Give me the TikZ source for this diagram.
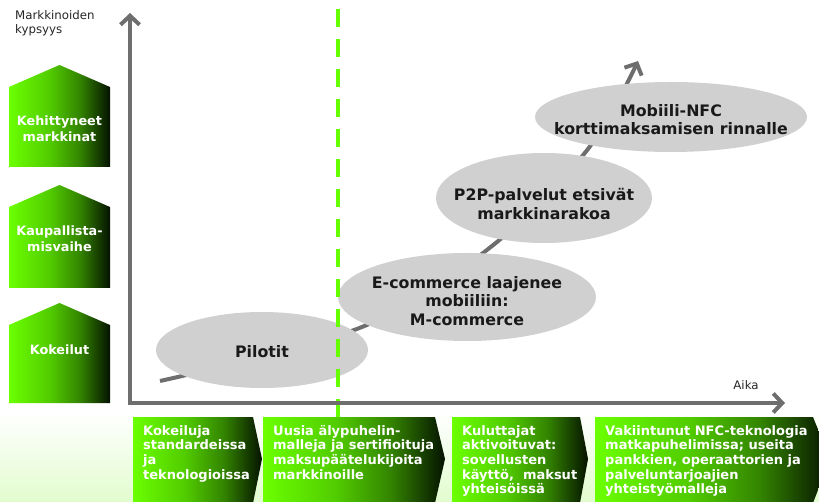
\documentclass[tikz,border=0pt]{standalone}
\usepackage{fontspec}
\setmainfont{DejaVu Sans}
\usetikzlibrary{arrows.meta,shapes.geometric}
\pgfdeclarehorizontalshading{gshade}{100bp}{rgb(0bp)=(0.42,1,0); rgb(25bp)=(0.42,1,0); rgb(45bp)=(0.32,0.8,0); rgb(60bp)=(0.2,0.52,0); rgb(75bp)=(0.02,0.07,0); rgb(100bp)=(0.02,0.07,0)}
\definecolor{axisgrey}{RGB}{110,110,110}
\definecolor{ellgrey}{RGB}{208,208,208}
\definecolor{limeg}{RGB}{102,255,0}
\definecolor{paleg}{RGB}{226,252,206}
\begin{document}
\begin{tikzpicture}[x=1pt,y=-1pt,
  house/.style={shading=gshade},
  chev/.style={shading=gshade},
  housetext/.style={text=white, font=\fontsize{12.8}{16}\selectfont\bfseries, align=center, inner sep=0pt},
  boxtext/.style={text=white, font=\fontsize{13}{14.7}\selectfont\bfseries, align=left, anchor=north west, inner sep=0pt},
  ell/.style={ellipse, fill=ellgrey, inner sep=0pt},
  elltext/.style={font=\fontsize{15.8}{18.5}\selectfont\bfseries, align=center, text=black!90, inner sep=0pt},
  axisline/.style={draw=axisgrey, line width=4pt, line join=miter},
  smalltext/.style={font=\fontsize{11.8}{14}\selectfont, text=black!85, inner sep=0pt}
]
\useasboundingbox (0,0) rectangle (819,502);
\clip (0,0) rectangle (819,502);
% faint background
\fill[top color=white, bottom color=paleg] (0,412) rectangle (819,502);

% left houses
\path[house] (9,87) -- (59.5,65) -- (110,87) -- (110,167) -- (9,167) -- cycle;
\path[house] (9,207) -- (59.5,185) -- (110,207) -- (110,288) -- (9,288) -- cycle;
\path[house] (9,325) -- (59.5,303) -- (110,325) -- (110,403) -- (9,403) -- cycle;
\node[housetext] (h1) at (59.5,129) {Kehittyneet\\markkinat};
\node[housetext] (h2) at (59.5,238.5) {Kaupallista-\\misvaihe};
\node[housetext] (h3) at (59.5,350) {Kokeilut};

% axis labels
\node[smalltext, anchor=north west, align=left] (ylab) at (15,10) {Markkinoiden\\kypsyys};
\node[smalltext] (xlab) at (746,385) {Aika};

% trend curve
\coordinate (t0) at (160,381);
\coordinate (t1) at (362,327);
\coordinate (t2) at (492,246);
\coordinate (t3) at (588,149);
\coordinate (t4) at (638,61);
\draw[axisline, line join=round, -{Straight Barb[length=9pt,width=19pt]}] plot[smooth, tension=0.55] coordinates {(t0) (t1) (t2) (t3) (t4)};

% ellipses
\node[ell, minimum width=212pt, minimum height=76pt] (pil) at (262,350) {};
\node[ell, minimum width=258pt, minimum height=88pt] (ecom) at (467,297) {};
\node[ell, minimum width=216pt, minimum height=90pt] (p2p) at (544,198) {};
\node[ell, minimum width=272pt, minimum height=70pt] (nfc) at (671,117) {};
\node[elltext] (pilt) at (262,352) {Pilotit};
\node[elltext] (ecomt) at (467,301) {E-commerce laajenee\\mobiiliin:\\M-commerce};
\node[elltext] (p2pt) at (544,204) {P2P-palvelut etsivät\\markkinarakoa};
\node[elltext] (nfct) at (671,119.5) {Mobiili-NFC\\korttimaksamisen rinnalle};

% dashed divider
\coordinate (dtop) at (338,9);
\coordinate (dbot) at (338,418);
\draw[limeg, line width=4pt, dash pattern=on 18pt off 12pt] (dtop) -- (dbot);

% axes
\coordinate (ytip) at (130,13);
\coordinate (orig) at (130,403);
\coordinate (xtip) at (785,403);
\draw[axisline, {Straight Barb[length=9pt,width=19pt]}-{Straight Barb[length=9pt,width=19pt]}] (ytip) -- (orig) -- (xtip);

% bottom chevrons
\path[chev] (133,417) -- (253,417) -- (262,459) -- (253,503) -- (133,503) -- cycle;
\path[chev] (263,417) -- (435,417) -- (445,459) -- (435,503) -- (263,503) -- cycle;
\path[chev] (452,417) -- (580,417) -- (588,459) -- (580,503) -- (452,503) -- cycle;
\path[chev] (595,417) -- (813,417) -- (830,459) -- (813,503) -- (595,503) -- cycle;
\node[boxtext] (b1) at (143,425) {Kokeiluja\\standardeissa\\ja\\teknologioissa};
\node[boxtext] (b2) at (273,425) {Uusia älypuhelin-\\malleja ja sertifioituja\\maksupäätelukijoita\\markkinoille};
\node[boxtext] (b3) at (462,425) {Kuluttajat\\aktivoituvat:\\sovellusten\\käyttö,\ \ maksut\\yhteisöissä};
\node[boxtext] (b4) at (605,425) {Vakiintunut NFC-teknologia\\matkapuhelimissa; useita\\pankkien, operaattorien ja\\palveluntarjoajien\\yhteistyömalleja};
\end{tikzpicture}
\end{document}
